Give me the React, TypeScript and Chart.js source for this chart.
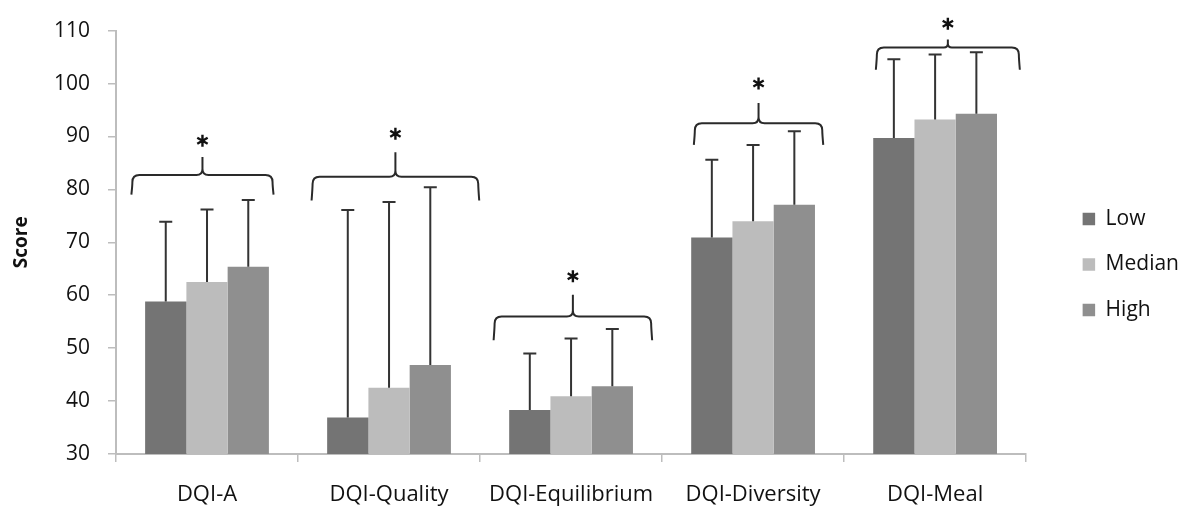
import React, { useEffect, useRef } from "react";
import { Chart, registerables } from "chart.js";

Chart.register(...registerables);

// ---- data ----
const categories = ["DQI-A", "DQI-Quality", "DQI-Equilibrium", "DQI-Diversity", "DQI-Meal"];
const seriesNames = ["Low", "Median", "High"];
const lowValues = [58.8, 36.9, 38.3, 70.9, 89.7];
const medianValues = [62.5, 42.5, 40.9, 74.0, 93.2];
const highValues = [65.4, 46.8, 42.8, 77.1, 94.3];
const lowSD = [15.1, 39.2, 10.7, 14.7, 14.9];
const medianSD = [13.7, 35.1, 10.9, 14.4, 12.3];
const highSD = [12.6, 33.6, 10.8, 13.9, 11.6];
const yTicks = [30, 40, 50, 60, 70, 80, 90, 100, 110];

// significance braces (score units for levels, category fraction for extent)
const braceLine = [82.7, 82.4, 56.0, 92.5, 106.8];
const braceEnd = [79.0, 77.9, 51.5, 88.4, 102.6];
const braceTip = [86.1, 87.0, 60.1, 96.3, 108.3];
const starLevel = [89.2, 90.5, 63.6, 100.0, 111.3];
const braceFrom = [-0.41, -0.42, -0.42, -0.32, -0.32];
const braceTo = [0.36, 0.49, 0.44, 0.38, 0.46];

const colors = ["#747474", "#bcbcbc", "#8f8f8f"];
const FONT = "'Open Sans', sans-serif";

const errorBarPlugin = {
  id: "errorBars",
  afterDatasetsDraw(chart: any) {
    const ctx = chart.ctx;
    const yScale = chart.scales.y;
    const sds = [lowSD, medianSD, highSD];
    ctx.save();
    ctx.strokeStyle = "#333333";
    ctx.lineWidth = 2;
    chart.data.datasets.forEach((ds: any, i: number) => {
      const meta = chart.getDatasetMeta(i);
      meta.data.forEach((bar: any, j: number) => {
        const v = ds.data[j];
        const top = yScale.getPixelForValue(v + sds[i][j]);
        ctx.beginPath();
        ctx.moveTo(bar.x, bar.y);
        ctx.lineTo(bar.x, top);
        ctx.moveTo(bar.x - 6.5, top);
        ctx.lineTo(bar.x + 6.5, top);
        ctx.stroke();
      });
    });
    ctx.restore();
  },
};

const bracePlugin = {
  id: "braces",
  afterDraw(chart: any) {
    const ctx = chart.ctx;
    const xs = chart.scales.x;
    const ys = chart.scales.y;
    const catW = xs.getPixelForValue(1) - xs.getPixelForValue(0);
    ctx.save();
    ctx.strokeStyle = "#2a2a2a";
    ctx.lineWidth = 2;
    ctx.lineJoin = "round";
    categories.forEach((_, j) => {
      const cx = xs.getPixelForValue(j);
      const l = cx + braceFrom[j] * catW;
      const r = cx + braceTo[j] * catW;
      const m = (l + r) / 2;
      const yl = ys.getPixelForValue(braceLine[j]);
      const ye = ys.getPixelForValue(braceEnd[j]);
      const yt = ys.getPixelForValue(braceTip[j]);
      const rad = Math.min(7, (ye - yl) / 2);
      const rt = Math.min(6, (yl - yt) / 2);
      ctx.beginPath();
      ctx.moveTo(l - 1, ye);
      ctx.quadraticCurveTo(l, yl + rad * 1.5, l, yl + rad);
      ctx.quadraticCurveTo(l, yl, l + rad, yl);
      ctx.lineTo(m - rt, yl);
      ctx.quadraticCurveTo(m, yl, m, yl - rt);
      ctx.lineTo(m, yt);
      ctx.moveTo(m, yl - rt);
      ctx.quadraticCurveTo(m, yl, m + rt, yl);
      ctx.lineTo(r - rad, yl);
      ctx.quadraticCurveTo(r, yl, r, yl + rad);
      ctx.quadraticCurveTo(r, yl + rad * 1.5, r + 1, ye);
      ctx.stroke();

      // asterisk
      const sy = ys.getPixelForValue(starLevel[j]);
      ctx.beginPath();
      const len = 6;
      for (let k = 0; k < 3; k++) {
        const a = Math.PI / 2 + (k * Math.PI) / 3;
        ctx.moveTo(m - Math.cos(a) * len, sy - Math.sin(a) * len);
        ctx.lineTo(m + Math.cos(a) * len, sy + Math.sin(a) * len);
      }
      ctx.lineWidth = 2.4;
      ctx.strokeStyle = "#111";
      ctx.stroke();
      ctx.lineWidth = 2;
      ctx.strokeStyle = "#2a2a2a";
    });
    ctx.restore();
  },
};

export default function App() {
  const canvasRef = useRef<HTMLCanvasElement | null>(null);

  useEffect(() => {
    document.body.style.margin = "0";
    const canvas = canvasRef.current;
    if (!canvas) return;
    const chart = new Chart(canvas, {
      type: "bar",
      data: {
        labels: categories,
        datasets: [
          { label: seriesNames[0], data: lowValues, backgroundColor: colors[0] },
          { label: seriesNames[1], data: medianValues, backgroundColor: colors[1] },
          { label: seriesNames[2], data: highValues, backgroundColor: colors[2] },
        ],
      },
      options: {
        responsive: false,
        animation: false,
        devicePixelRatio: 1,
        layout: { padding: { top: 23, bottom: 6, left: 0, right: 0 } },
        datasets: { bar: { categoryPercentage: 0.68, barPercentage: 1 } },
        plugins: {
          legend: {
            position: "right",
            align: "center",
            labels: {
              boxWidth: 12.5,
              boxHeight: 12.5,
              padding: 24.5,
              color: "#111",
              font: { family: FONT, size: 21 },
            },
          },
          tooltip: { enabled: false },
        },
        scales: {
          x: {
            grid: {
              offset: true,
              drawOnChartArea: false,
              drawTicks: true,
              tickLength: 8,
              color: "#bdbdbd",
              lineWidth: 1.5,
            },
            border: { color: "#bdbdbd", width: 2 },
            ticks: {
              color: "#111",
              font: { family: FONT, size: 22 },
              padding: 20,
              maxRotation: 0,
              autoSkip: false,
            },
            afterFit(s: any) {
              s.height = 52;
            },
          },
          y: {
            min: 30,
            max: 110,
            afterBuildTicks(s: any) {
              s.ticks = yTicks.map((v) => ({ value: v }));
            },
            grid: {
              drawOnChartArea: false,
              drawTicks: true,
              tickLength: 8,
              color: "#bdbdbd",
              lineWidth: 1.5,
            },
            border: { color: "#bdbdbd", width: 2 },
            ticks: {
              color: "#111",
              font: { family: FONT, size: 21 },
              padding: 18,
            },
            title: {
              display: true,
              text: "Score",
              color: "#111",
              font: { family: FONT, size: 19, weight: "bold" },
              padding: { top: 10.5, bottom: 0 },
            },
            afterFit(s: any) {
              s.width = 116;
            },
          },
          gap: {
            type: "linear",
            position: "right",
            display: true,
            grid: { display: false, drawTicks: false },
            border: { display: false },
            ticks: { display: false },
            afterFit(s: any) {
              s.width = 32;
            },
          },
        },
      } as any,
      plugins: [errorBarPlugin, bracePlugin],
    });
    return () => chart.destroy();
  }, []);

  return (
    <div style={{ width: 1189, height: 512 }}>
      <canvas ref={canvasRef} width={1189} height={512} style={{ display: "block" }} />
    </div>
  );
}
